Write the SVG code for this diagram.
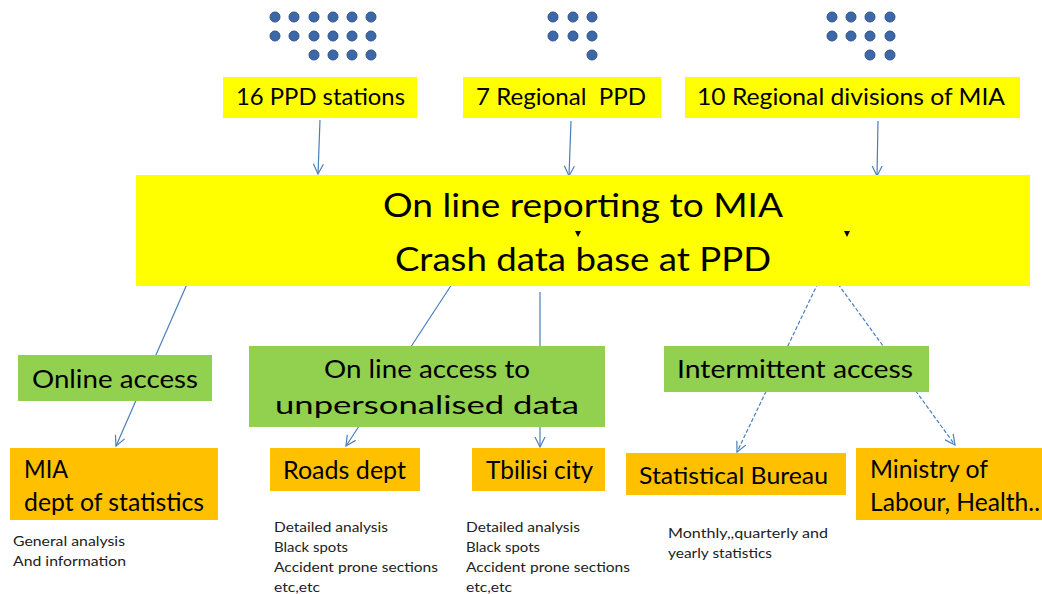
<svg xmlns="http://www.w3.org/2000/svg" width="1042" height="594" viewBox="0 0 1042 594">
<defs>
<marker id="arr" markerWidth="14" markerHeight="14" refX="11" refY="6" orient="auto" markerUnits="userSpaceOnUse">
<path d="M1,1 L11,6 L1,11" fill="none" stroke="#4a7ebb" stroke-width="1.2"/>
</marker>
<style>
.dot{fill:#3c68a8;stroke:#2f528f;stroke-width:1}
.yel{fill:#ffff00}
.grn{fill:#92d050}
.org{fill:#ffc000}
.t{font-family:Lato,"Liberation Sans",sans-serif;fill:#000}
.s{font-family:Lato,"Liberation Sans",sans-serif;fill:#222;font-size:14px}
.c{stroke:#4a7ebb;stroke-width:1.2;fill:none}
.d{stroke-dasharray:4 2}
</style>
</defs>
<rect width="1042" height="594" fill="#fff"/>
<g id="dots">
<circle class="dot" cx="275" cy="17" r="5"/><circle class="dot" cx="294" cy="17" r="5"/><circle class="dot" cx="314" cy="17" r="5"/><circle class="dot" cx="333" cy="17" r="5"/><circle class="dot" cx="352" cy="17" r="5"/><circle class="dot" cx="371" cy="17" r="5"/>
<circle class="dot" cx="275" cy="36" r="5"/><circle class="dot" cx="294" cy="36" r="5"/><circle class="dot" cx="314" cy="36" r="5"/><circle class="dot" cx="333" cy="36" r="5"/><circle class="dot" cx="352" cy="36" r="5"/><circle class="dot" cx="371" cy="36" r="5"/>
<circle class="dot" cx="314" cy="55" r="5"/><circle class="dot" cx="333" cy="55" r="5"/><circle class="dot" cx="352" cy="55" r="5"/><circle class="dot" cx="371" cy="55" r="5"/>
<circle class="dot" cx="553" cy="17" r="5"/><circle class="dot" cx="573" cy="17" r="5"/><circle class="dot" cx="592" cy="17" r="5"/>
<circle class="dot" cx="553" cy="36" r="5"/><circle class="dot" cx="573" cy="36" r="5"/><circle class="dot" cx="592" cy="36" r="5"/>
<circle class="dot" cx="592" cy="55" r="5"/>
<circle class="dot" cx="832" cy="17" r="5"/><circle class="dot" cx="851" cy="17" r="5"/><circle class="dot" cx="870" cy="17" r="5"/><circle class="dot" cx="890" cy="17" r="5"/>
<circle class="dot" cx="832" cy="36" r="5"/><circle class="dot" cx="851" cy="36" r="5"/><circle class="dot" cx="870" cy="36" r="5"/><circle class="dot" cx="890" cy="36" r="5"/>
<circle class="dot" cx="870" cy="55" r="5"/><circle class="dot" cx="890" cy="55" r="5"/>
</g>
<g id="connectors">
<line class="c" x1="320" y1="120" x2="318" y2="174" marker-end="url(#arr)"/>
<line class="c" x1="571" y1="121" x2="569" y2="176" marker-end="url(#arr)"/>
<line class="c" x1="878" y1="121" x2="877" y2="176" marker-end="url(#arr)"/>
<line class="c" x1="191" y1="275" x2="116" y2="446" marker-end="url(#arr)"/>
<line class="c" x1="452" y1="284" x2="346" y2="446" marker-end="url(#arr)"/>
<line class="c" x1="540" y1="292" x2="540" y2="447" marker-end="url(#arr)"/>
<line class="c d" x1="818" y1="283" x2="737" y2="452" marker-end="url(#arr)"/>
<line class="c d" x1="838" y1="284" x2="955" y2="445" marker-end="url(#arr)"/>
</g>
<g id="n16ppd">
<rect class="yel" x="223" y="77" width="194" height="41"/>
<text class="t" x="320.5" y="105" font-size="23" text-anchor="middle" textLength="169" lengthAdjust="spacingAndGlyphs">16 PPD stations</text>
</g>
<g id="n7ppd">
<rect class="yel" x="463" y="77" width="198" height="41"/>
<text class="t" x="561" y="105" font-size="23" text-anchor="middle" textLength="170" lengthAdjust="spacingAndGlyphs" xml:space="preserve">7 Regional  PPD</text>
</g>
<g id="n10mia">
<rect class="yel" x="685" y="77" width="335" height="41"/>
<text class="t" x="851" y="105" font-size="23" text-anchor="middle" textLength="308" lengthAdjust="spacingAndGlyphs">10 Regional divisions of MIA</text>
</g>
<g id="main">
<rect class="yel" x="136" y="175" width="894" height="111"/>
<text class="t" x="583" y="217" font-size="33" text-anchor="middle" textLength="400" lengthAdjust="spacingAndGlyphs">On line reporting to MIA</text>
<text class="t" x="583" y="271" font-size="33" text-anchor="middle" textLength="376" lengthAdjust="spacingAndGlyphs">Crash data base at PPD</text>
<path d="M575,231 L581,231 L578,237 Z" fill="#000"/>
<path d="M844,231 L850,231 L847,237 Z" fill="#000"/>
</g>
<g id="online">
<rect class="grn" x="18" y="355" width="194" height="46"/>
<text class="t" x="115" y="388" font-size="25" text-anchor="middle" textLength="166" lengthAdjust="spacingAndGlyphs">Online access</text>
</g>
<g id="unpers">
<rect class="grn" x="249" y="346" width="356" height="81"/>
<text class="t" x="427" y="378" font-size="25" text-anchor="middle" textLength="206" lengthAdjust="spacingAndGlyphs">On line access to</text>
<text class="t" x="427" y="414" font-size="25" text-anchor="middle" textLength="304" lengthAdjust="spacingAndGlyphs">unpersonalised data</text>
</g>
<g id="intermittent">
<rect class="grn" x="664" y="346" width="265" height="46"/>
<text class="t" x="795" y="378" font-size="25" text-anchor="middle" textLength="236" lengthAdjust="spacingAndGlyphs">Intermittent access</text>
</g>
<g id="miastat">
<rect class="org" x="10" y="448" width="208" height="72"/>
<text class="t" x="24" y="478" font-size="25" textLength="44" lengthAdjust="spacingAndGlyphs">MIA</text>
<text class="t" x="24" y="511" font-size="25" textLength="180" lengthAdjust="spacingAndGlyphs">dept of statistics</text>
<text class="s" x="13" y="546" textLength="112" lengthAdjust="spacingAndGlyphs">General analysis</text>
<text class="s" x="13" y="566" textLength="113" lengthAdjust="spacingAndGlyphs">And information</text>
</g>
<g id="roads">
<rect class="org" x="270" y="448" width="150" height="43"/>
<text class="t" x="344.5" y="479" font-size="25" text-anchor="middle" textLength="123" lengthAdjust="spacingAndGlyphs">Roads dept</text>
<text class="s" x="274" y="532" textLength="114" lengthAdjust="spacingAndGlyphs">Detailed analysis</text>
<text class="s" x="274" y="552" textLength="74" lengthAdjust="spacingAndGlyphs">Black spots</text>
<text class="s" x="274" y="572" textLength="164" lengthAdjust="spacingAndGlyphs">Accident prone sections</text>
<text class="s" x="274" y="592" textLength="46" lengthAdjust="spacingAndGlyphs">etc,etc</text>
</g>
<g id="tbilisi">
<rect class="org" x="472" y="448" width="133" height="43"/>
<text class="t" x="539.5" y="479" font-size="25" text-anchor="middle" textLength="107" lengthAdjust="spacingAndGlyphs">Tbilisi city</text>
<text class="s" x="466" y="532" textLength="114" lengthAdjust="spacingAndGlyphs">Detailed analysis</text>
<text class="s" x="466" y="552" textLength="74" lengthAdjust="spacingAndGlyphs">Black spots</text>
<text class="s" x="466" y="572" textLength="164" lengthAdjust="spacingAndGlyphs">Accident prone sections</text>
<text class="s" x="466" y="592" textLength="46" lengthAdjust="spacingAndGlyphs">etc,etc</text>
</g>
<g id="statbureau">
<rect class="org" x="626" y="453" width="220" height="42"/>
<text class="t" x="733.5" y="484" font-size="23" text-anchor="middle" textLength="189" lengthAdjust="spacingAndGlyphs">Statistical Bureau</text>
<text class="s" x="668" y="538" textLength="160" lengthAdjust="spacingAndGlyphs">Monthly,,quarterly and</text>
<text class="s" x="668" y="558" textLength="104" lengthAdjust="spacingAndGlyphs">yearly statistics</text>
</g>
<g id="ministry">
<rect class="org" x="856" y="448" width="186" height="72"/>
<text class="t" x="870" y="478" font-size="25" textLength="118" lengthAdjust="spacingAndGlyphs">Ministry of</text>
<text class="t" x="870" y="511" font-size="25" textLength="170" lengthAdjust="spacingAndGlyphs">Labour, Health..</text>
</g>
</svg>
